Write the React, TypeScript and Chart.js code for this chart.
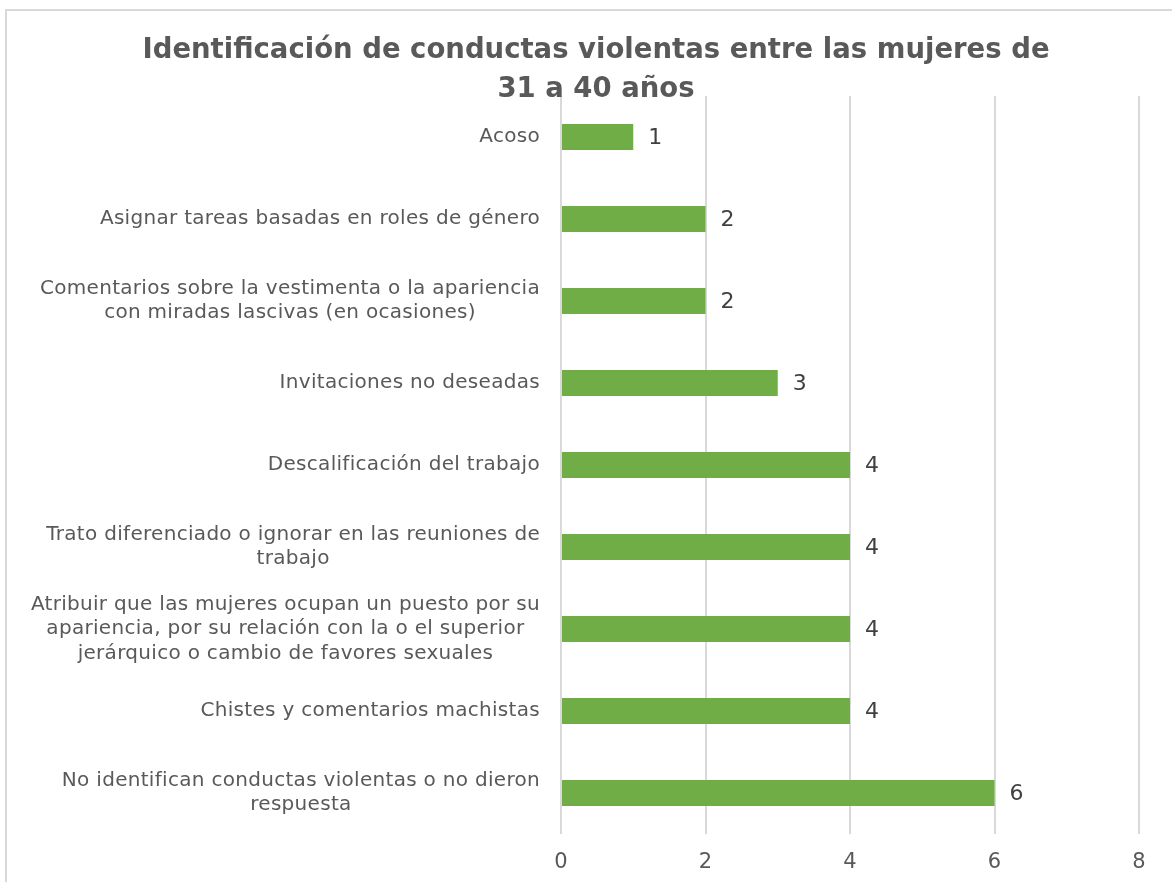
import React, { useEffect, useRef } from 'react';
import { Chart, registerables } from 'chart.js';

Chart.register(...registerables);

const categories: string[][] = [
  ['Acoso'],
  ['Asignar tareas basadas en roles de género'],
  ['Comentarios sobre la vestimenta o la apariencia', 'con miradas lascivas (en ocasiones)'],
  ['Invitaciones no deseadas'],
  ['Descalificación del trabajo'],
  ['Trato diferenciado o ignorar en las reuniones de', 'trabajo'],
  [
    'Atribuir que las mujeres ocupan un puesto por su',
    'apariencia, por su relación con la o el superior',
    'jerárquico o cambio de favores sexuales',
  ],
  ['Chistes y comentarios machistas'],
  ['No identifican conductas violentas o no dieron', 'respuesta'],
];
const values: number[] = [1, 2, 2, 3, 4, 4, 4, 4, 6];
const xMin = 0;
const xMax = 8;
const xStep = 2;
const titleLines: string[] = ['Identificación de conductas violentas entre las mujeres de', '31 a 40 años'];

const FONT = '"DejaVu Sans", sans-serif';

const customPlugin = {
  id: 'customDraw',
  afterDraw(chart: any) {
    const ctx = chart.ctx as CanvasRenderingContext2D;
    ctx.save();
    // border
    ctx.strokeStyle = '#d9d9d9';
    ctx.lineWidth = 2;
    ctx.strokeRect(6, 10, 1200, 900);

    // title
    ctx.fillStyle = '#595959';
    ctx.font = `bold 27.5px ${FONT}`;
    ctx.textAlign = 'center';
    ctx.textBaseline = 'middle';
    ctx.fillText(titleLines[0], 596, 51);
    ctx.fillText(titleLines[1], 596, 90);

    // y labels
    const yScale = chart.scales.y;
    ctx.font = `20px ${FONT}`;
    (ctx as any).letterSpacing = '0.3px';
    ctx.fillStyle = '#595959';
    const lh = 24.5;
    categories.forEach((lines, i) => {
      const y = yScale.getPixelForValue(i);
      let w = 0;
      lines.forEach((l) => (w = Math.max(w, ctx.measureText(l).width)));
      const cx = 540 - w / 2;
      lines.forEach((l, j) => {
        ctx.fillText(l, cx, y + (j - (lines.length - 1) / 2) * lh);
      });
    });
    (ctx as any).letterSpacing = '0px';

    // data labels
    const meta = chart.getDatasetMeta(0);
    ctx.font = `22px ${FONT}`;
    ctx.fillStyle = '#404040';
    ctx.textAlign = 'left';
    meta.data.forEach((el: any, i: number) => {
      ctx.fillText(String(values[i]), el.x + 15, el.y + 1);
    });
    ctx.restore();
  },
};

export default function App() {
  const ref = useRef<HTMLCanvasElement | null>(null);
  useEffect(() => {
    document.body.style.margin = '0';
    if (!ref.current) return;
    const chart = new Chart(ref.current, {
      type: 'bar',
      data: {
        labels: categories.map((c) => c.join(' ')),
        datasets: [
          {
            data: values,
            backgroundColor: '#70ad47',
            barPercentage: 0.32,
            categoryPercentage: 1,
          },
        ],
      },
      options: {
        indexAxis: 'y',
        responsive: false,
        animation: false,
        devicePixelRatio: 1,
        layout: { padding: { left: 561, right: 33, top: 96, bottom: 9 } },
        plugins: {
          legend: { display: false },
          title: { display: false },
          tooltip: { enabled: false },
        },
        scales: {
          x: {
            min: xMin,
            max: xMax,
            ticks: { stepSize: xStep, color: '#595959', font: { size: 21, family: FONT }, padding: 16 },
            grid: { color: '#d9d9d9', lineWidth: 2, drawTicks: false },
            border: { display: false },
            afterFit: (scale: any) => {
              scale.height = 39;
            },
          },
          y: { display: false },
        },
      },
      plugins: [customPlugin],
    });
    return () => chart.destroy();
  }, []);
  return (
    <div style={{ width: 1172, height: 882 }}>
      <canvas ref={ref} width={1172} height={882} style={{ display: 'block' }} />
    </div>
  );
}
